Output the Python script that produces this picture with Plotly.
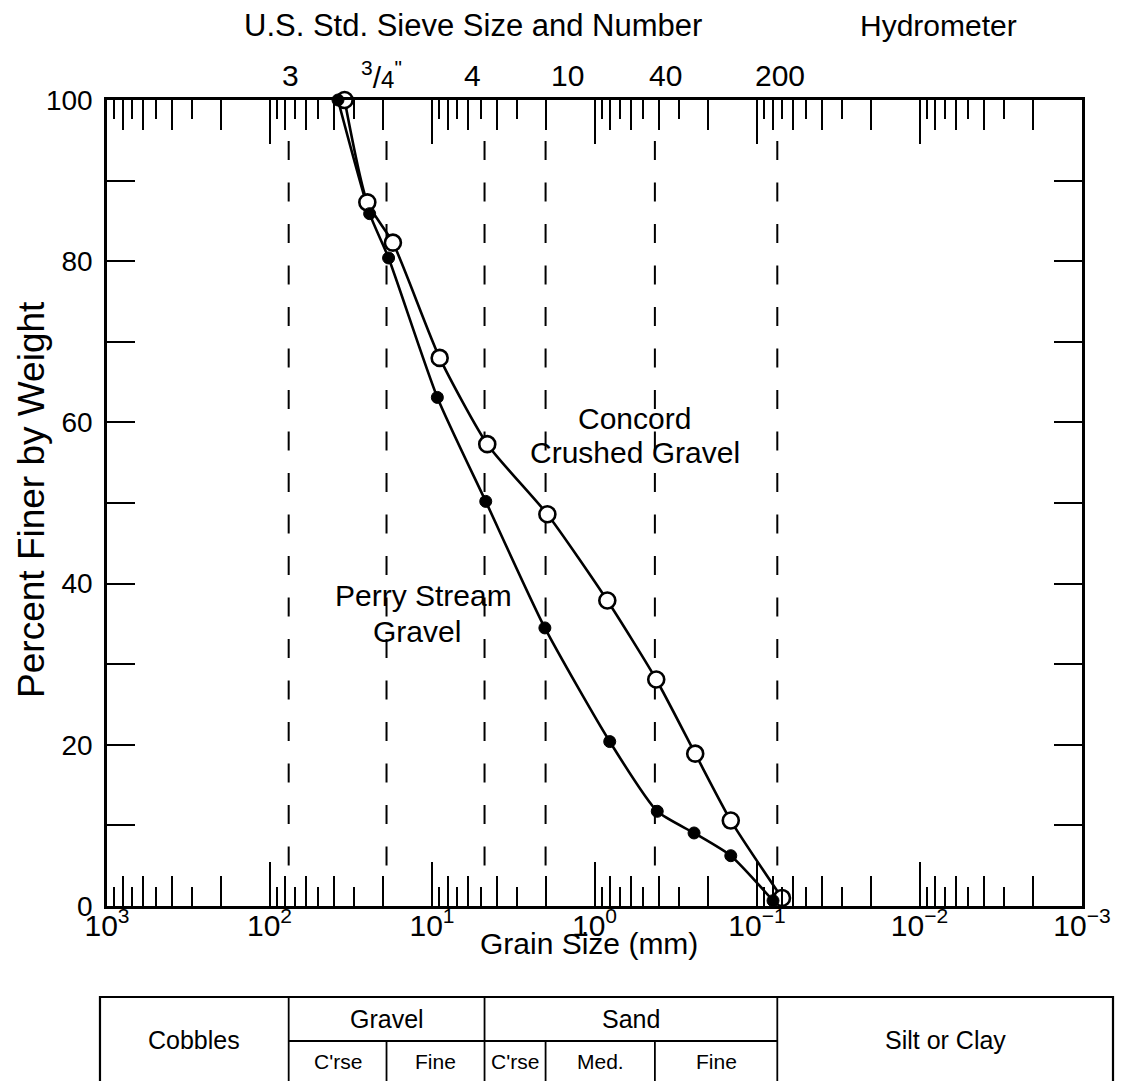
import numpy as np
import plotly.graph_objects as go

# ---------------- data ----------------
concord_size_mm = [34.5, 25.0, 17.4, 8.97, 4.57, 1.95, 0.834, 0.417, 0.240, 0.145, 0.0702]
concord_pct = [100, 87.3, 82.3, 68.0, 57.3, 48.6, 37.9, 28.1, 18.9, 10.6, 1.0]

perry_size_mm = [37.9, 24.2, 18.5, 9.27, 4.67, 2.02, 0.806, 0.411, 0.244, 0.145, 0.0797]
perry_pct = [100, 85.9, 80.4, 63.1, 50.2, 34.5, 20.4, 11.75, 9.06, 6.24, 0.66]

sieve_size_mm = [76.2, 19.05, 4.75, 2.0, 0.425, 0.075]
sieve_labels = ['3', '<sup>3</sup>/<span style="font-size:24px">4</span><sup>"</sup>',
                '4', '10', '40', '200']
sieve_label_shift = [2, -5, -12, 22, 11, 3]

decade_vals = [1e3, 1e2, 1e1, 1e0, 1e-1, 1e-2, 1e-3]
decade_labels = ['10<sup>3</sup>', '10<sup>2</sup>', '10<sup>1</sup>', '10<sup>0</sup>',
                 '10<sup>\u22121</sup>', '10<sup>\u22122</sup>', '10<sup>\u22123</sup>']

y_vals = list(range(0, 101, 10))
y_labels = [str(v) if v % 20 == 0 else '' for v in y_vals]

# minor ticks: even multipliers long, odd multipliers short
even_minor = [m * 10.0 ** e for e in range(-3, 3) for m in (2, 4, 6, 8)]
odd_minor = [m * 10.0 ** e for e in range(-3, 3) for m in (3, 5, 7, 9)]

FONT = "Liberation Sans, Arial, Helvetica, sans-serif"
BLACK = "#000000"

fig = go.Figure()

# dashed sieve lines
for s in sieve_size_mm:
    fig.add_trace(go.Scatter(x=[s, s], y=[94.9, 5.0], mode="lines",
                             line=dict(color=BLACK, width=2, dash="19px,22.5px"),
                             hoverinfo="skip", showlegend=False))

# curves
fig.add_trace(go.Scatter(x=perry_size_mm, y=perry_pct, mode="lines",
                         line=dict(color=BLACK, width=2.6, shape="spline", smoothing=0.6),
                         showlegend=False, hoverinfo="skip"))
fig.add_trace(go.Scatter(x=concord_size_mm, y=concord_pct, mode="lines",
                         line=dict(color=BLACK, width=2.6, shape="spline", smoothing=0.6),
                         showlegend=False, hoverinfo="skip"))
fig.add_trace(go.Scatter(x=concord_size_mm, y=concord_pct, mode="markers",
                         marker=dict(symbol="circle", size=16, color="white",
                                     line=dict(color=BLACK, width=2.6)),
                         name="Concord Crushed Gravel", showlegend=False, cliponaxis=False))
fig.add_trace(go.Scatter(x=perry_size_mm, y=perry_pct, mode="markers",
                         marker=dict(symbol="circle", size=12, color=BLACK,
                                     line=dict(color=BLACK, width=1)),
                         name="Perry Stream Gravel", showlegend=False, cliponaxis=False))

# empty traces to register the overlay tick axes
fig.add_trace(go.Scatter(x=[], y=[], xaxis="x2", yaxis="y", showlegend=False))
fig.add_trace(go.Scatter(x=[], y=[], xaxis="x3", yaxis="y", showlegend=False))

common_x = dict(type="log", range=[3, -3], showgrid=False, zeroline=False,
                showline=True, linecolor=BLACK, linewidth=2.5, mirror="ticks",
                ticks="inside", tickcolor=BLACK, tickwidth=2, automargin=False)

fig.update_layout(
    width=1125, height=1081,
    template="none",
    margin=dict(l=99, r=51, t=92, b=183),
    paper_bgcolor="white", plot_bgcolor="white",
    font=dict(family=FONT, color=BLACK, size=28),
    xaxis=dict(**common_x, tickvals=decade_vals, ticktext=decade_labels, ticklen=44,
               tickfont=dict(size=30, family=FONT, color=BLACK), ticklabelstandoff=-9),
    xaxis2=dict(**common_x, overlaying="x", anchor="y", side="bottom",
                tickvals=even_minor, ticklen=30, showticklabels=False),
    xaxis3=dict(**common_x, overlaying="x", anchor="y", side="bottom",
                tickvals=odd_minor, ticklen=19, showticklabels=False),
    yaxis=dict(range=[0, 100], tickvals=y_vals, ticktext=y_labels, ticks="inside",
               ticklen=28, tickwidth=2, tickcolor=BLACK, showline=True, linecolor=BLACK,
               linewidth=2.5, mirror="ticks", showgrid=False, zeroline=False,
               tickfont=dict(size=28, family=FONT, color=BLACK), automargin=False,
               ticklabelstandoff=6),
)

ann = []
# axis titles
ann.append(dict(text="Grain Size (mm)", xref="paper", yref="paper", x=0.494, y=-0.046,
                showarrow=False, font=dict(size=30), xanchor="center", yanchor="middle"))
ann.append(dict(text="Percent Finer by Weight", xref="paper", yref="paper", x=-0.077, y=0.505,
                showarrow=False, textangle=-90, font=dict(size=37),
                xanchor="center", yanchor="middle"))
# top headings
ann.append(dict(text="U.S. Std. Sieve Size and Number", xref="paper", yref="paper",
                x=0.375, y=1.093, showarrow=False, font=dict(size=31),
                xanchor="center", yanchor="middle"))
ann.append(dict(text="Hydrometer", xref="paper", yref="paper", x=0.853, y=1.093,
                showarrow=False, font=dict(size=30), xanchor="center", yanchor="middle"))
# sieve labels
for s, lab, sh in zip(sieve_size_mm, sieve_labels, sieve_label_shift):
    ann.append(dict(text=lab, xref="x", yref="paper", x=np.log10(s), y=1.031, xshift=sh,
                    showarrow=False, font=dict(size=30), xanchor="center", yanchor="middle"))
# curve labels
ann.append(dict(text="Concord", xref="x", yref="y", x=-0.247, y=60.5, showarrow=False,
                font=dict(size=30), xanchor="center", yanchor="middle"))
ann.append(dict(text="Crushed Gravel", xref="x", yref="y", x=-0.247, y=56.3, showarrow=False,
                font=dict(size=30), xanchor="center", yanchor="middle"))
ann.append(dict(text="Perry Stream", xref="x", yref="y", x=1.05, y=38.5, showarrow=False,
                font=dict(size=30), xanchor="center", yanchor="middle"))
ann.append(dict(text="Gravel", xref="x", yref="y", x=1.09, y=34.1, showarrow=False,
                font=dict(size=30), xanchor="center", yanchor="middle"))

# ---------------- soil classification table ----------------
t_top, t_mid, t_bot = -0.1129, -0.1675, -0.2195
t_left, t_right = -0.0072, 1.0318
g3, g34, g4, g10, g40, g200 = sieve_size_mm
shapes = [
    dict(type="rect", xref="paper", yref="paper", x0=t_left, x1=t_right, y0=t_bot, y1=t_top,
         line=dict(color=BLACK, width=2.2)),
    dict(type="line", xref="x", yref="paper", x0=g3, x1=g200, y0=t_mid, y1=t_mid,
         line=dict(color=BLACK, width=1.8)),
]
for v in (g3, g4, g200):
    shapes.append(dict(type="line", xref="x", yref="paper", x0=v, x1=v, y0=t_bot, y1=t_top,
                       line=dict(color=BLACK, width=1.8)))
for v in (g34, g10, g40):
    shapes.append(dict(type="line", xref="x", yref="paper", x0=v, x1=v, y0=t_bot, y1=t_mid,
                       line=dict(color=BLACK, width=1.8)))

lg = np.log10
row1 = (t_top + t_mid) / 2
row2 = (t_mid + t_bot) / 2
rowc = (t_top + t_bot) / 2
cells_main = [("Gravel", (lg(g3) + lg(g4)) / 2), ("Sand", (lg(g4) + lg(g200)) / 2)]
cells_sub = [("C'rse", (lg(g3) + lg(g34)) / 2), ("Fine", (lg(g34) + lg(g4)) / 2),
             ("C'rse", (lg(g4) + lg(g10)) / 2), ("Med.", (lg(g10) + lg(g40)) / 2),
             ("Fine", (lg(g40) + lg(g200)) / 2)]
for txt, xv in cells_main:
    ann.append(dict(text=txt, xref="x", yref="paper", x=xv, y=row1, showarrow=False,
                    font=dict(size=25), xanchor="center", yanchor="middle"))
for txt, xv in cells_sub:
    ann.append(dict(text=txt, xref="x", yref="paper", x=xv, y=row2, showarrow=False,
                    font=dict(size=21), xanchor="center", yanchor="middle"))
ann.append(dict(text="Cobbles", xref="paper", yref="paper", x=0.0892, y=rowc, showarrow=False,
                font=dict(size=25), xanchor="center", yanchor="middle"))
ann.append(dict(text="Silt or Clay", xref="paper", yref="paper", x=0.8595, y=rowc,
                showarrow=False, font=dict(size=25), xanchor="center", yanchor="middle"))

fig.update_layout(annotations=ann, shapes=shapes)
fig.write_html("out.html")
